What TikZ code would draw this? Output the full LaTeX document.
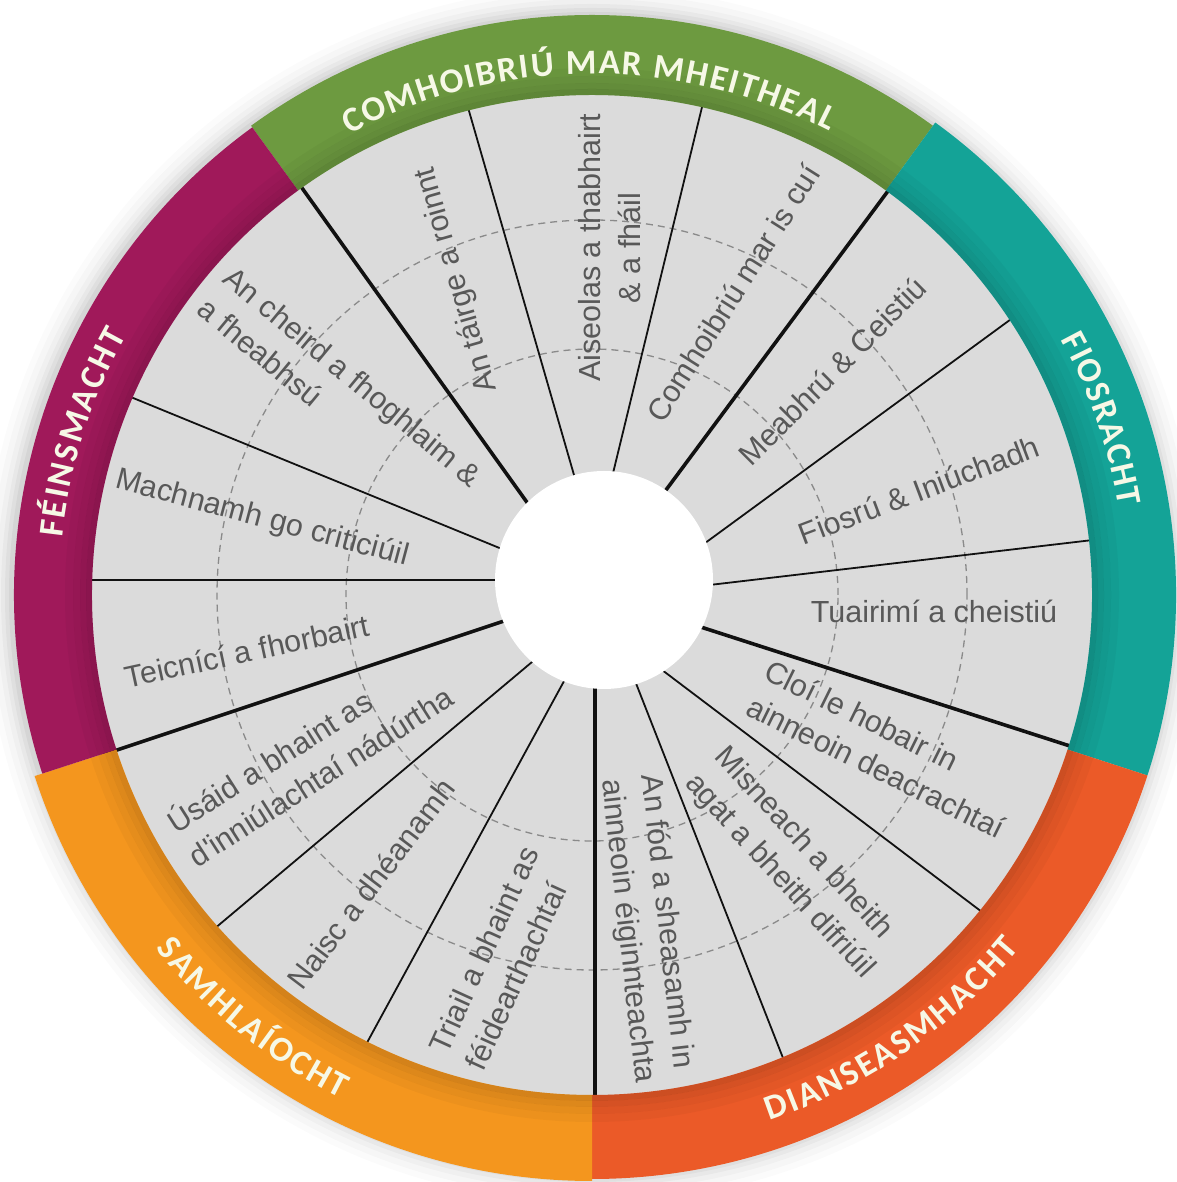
\documentclass[tikz,border=0pt]{standalone}
\usepackage{fontspec}
\setmainfont{Liberation Sans}
\newfontfamily\itemfont{Liberation Sans}
\newfontfamily\bandfont{Carlito}
\usetikzlibrary{calc,decorations.text}
\definecolor{greyfill}{HTML}{DBDBDB}
\definecolor{itemgrey}{HTML}{585858}
\definecolor{dashgrey}{HTML}{8A8A8A}
\definecolor{linecol}{HTML}{111111}
\definecolor{bandgreen}{HTML}{6D9A40}
\definecolor{bandteal}{HTML}{14A397}
\definecolor{bandred}{HTML}{EB5A28}
\definecolor{bandorange}{HTML}{F4961E}
\definecolor{bandmagenta}{HTML}{A0195A}
\definecolor{bandtext}{HTML}{F6F8E6}
\begin{document}
\begin{tikzpicture}[x=1pt,y=1pt,
  item/.style={font=\itemfont\fontsize{30.5}{40}\selectfont, text=itemgrey, inner sep=0pt},
  thinline/.style={line width=1.8pt, draw=linecol},
  thickline/.style={line width=3.6pt, draw=linecol},
  dashring/.style={draw=dashgrey, line width=1.3pt, dash pattern=on 7pt off 5pt},
  bandlabel/.style={decorate, decoration={text along path, text align={fit to path}, text color=bandtext}}]

\useasboundingbox (0,0) rectangle (1176,1182);
\fill[white] (0,0) rectangle (1176,1182);
\coordinate (O) at (592,587);
\coordinate (W) at (604,602);

% soft shadow around the wheel
\foreach \rr/\oo in {583/0.04,587/0.035,591/0.03,596/0.025,602/0.02,608/0.015}
  \fill[black, opacity=\oo] (O) circle[radius=\rr pt];

% grey disc
\fill[greyfill] (O) circle[radius=501pt];

% dashed rings
\draw[dashring] (O) circle[radius=246pt];
\draw[dashring] (O) circle[radius=375pt];

% thin separators (inner x/y, outer x/y)
\foreach \ax/\ay/\bx/\by in {574/707/469/1071, 615/717/703/1079, 712/644/1003/857,
    718/598/1093/642, 670/506/978/273, 639/491/783/124, 563/499/369/143,
    532/520/226/263, 497/602/92/602, 497/635/138/782}
  \draw[thinline] ($(\ax,\ay)!-0.05!(\bx,\by)$) -- ($(\ax,\ay)!1.04!(\bx,\by)$);

% thick separators between the five groups
\foreach \ax/\ay/\bx/\by in {526/681/302/994, 666/692/888/991, 710/552/1073/435,
    595/493/595/87, 501/560/117/432}
  \draw[thickline] ($(\ax,\ay)!-0.05!(\bx,\by)$) -- ($(\ax,\ay)!1.04!(\bx,\by)$);

% coloured bands
\foreach \sa/\sb/\rr/\cc in {54/126/580/bandgreen, -18/54/584/bandteal,
    -90/-18/584/bandred, 198/270/586/bandorange, 126/198/578/bandmagenta}
  \fill[fill=\cc] ($(O)+(\sa:500pt)$) arc[start angle=\sa, end angle=\sb, radius=500pt]
     -- ($(O)+(\sb:\rr pt)$) arc[start angle=\sb, end angle=\sa, radius=\rr pt] -- cycle;

% darker inner edge of the bands
\foreach \ra/\rb/\oo in {500/506/0.13, 506/512/0.09, 512/519/0.06, 519/527/0.03}
  \fill[black, opacity=\oo, even odd rule] (O) circle[radius=\rb pt] (O) circle[radius=\ra pt];

% white centre
\fill[white] (W) circle[radius=109pt];

% band labels
\path[bandlabel, decoration={text={|\bandfont\bfseries\fontsize{35}{35}\selectfont|COMHOIBRIÚ MAR MHEITHEAL}}]
  ($(O)+(117.8:521pt)$) arc[start angle=117.8, end angle=62.9, radius=521pt];
\path[bandlabel, decoration={text={|\bandfont\bfseries\fontsize{35}{35}\selectfont|FIOSRACHT}}]
  ($(O)+(28.6:534pt)$) arc[start angle=28.6, end angle=9.5, radius=534pt];
\path[bandlabel, decoration={text={|\bandfont\bfseries\fontsize{35}{35}\selectfont|FÉINSMACHT}}]
  ($(O)+(173.8:533pt)$) arc[start angle=173.8, end angle=150.8, radius=533pt];
\path[bandlabel, decoration={text={|\bandfont\bfseries\fontsize{35}{35}\selectfont|SAMHLAÍOCHT}}]
  ($(O)+(219:562pt)$) arc[start angle=219, end angle=243.5, radius=562pt];
\path[bandlabel, decoration={text={|\bandfont\bfseries\fontsize{35}{35}\selectfont|DIANSEASMHACHT}}]
  ($(O)+(-71.3:555pt)$) arc[start angle=-71.3, end angle=-39.6, radius=555pt];

% item labels
\node[item, rotate=0] (t1) at (934,571) {Tuairimí a cheistiú};
\node[item, rotate=20.7] (t2) at (919,692) {Fiosrú \& Iniúchadh};
\node[item, rotate=45] (t3) at (832,811) {Meabhrú \& Ceistiú};
\node[item, rotate=57.7] (t4) at (733,889) {Comhoibriú mar is cuí};
\node[item, rotate=90, align=center] (t5) at (610,934) {Aiseolas a thabhairt\\\& a fháil};
\node[item, rotate=106] (t6) at (457,902) {An táirge a roinnt};
\node[item, rotate=-39.6, align=left] (t7) at (340,790) {An cheird a fhoghlaim \&\\a fheabhsú};
\node[item, rotate=-14.9] (t8) at (262,663) {Machnamh go criticiúil};
\node[item, rotate=12.2] (t9) at (247,531) {Teicnící a fhorbairt};
\node[item, rotate=32.5, align=left] (t10) at (309,424) {Úsáid a bhaint as\\d'inniúlachtaí nádúrtha};
\node[item, rotate=52.8] (t11) at (371,298) {Naisc a dhéanamh};
\node[item, rotate=65.5, align=left] (t12) at (502,224) {Triail a bhaint as\\féidearthachtaí};
\node[item, rotate=-83.6, align=left] (t13) at (647,253) {An fód a sheasamh in\\ainneoin éiginnteachta};
\node[item, rotate=-47.5, align=left] (t14) at (794,319) {Misneach a bheith\\agat a bheith difriúil};
\node[item, rotate=-26.3, align=left] (t15) at (885,433) {Cloí le hobair in\\ainneoin deacrachtaí};
\end{tikzpicture}
\end{document}
